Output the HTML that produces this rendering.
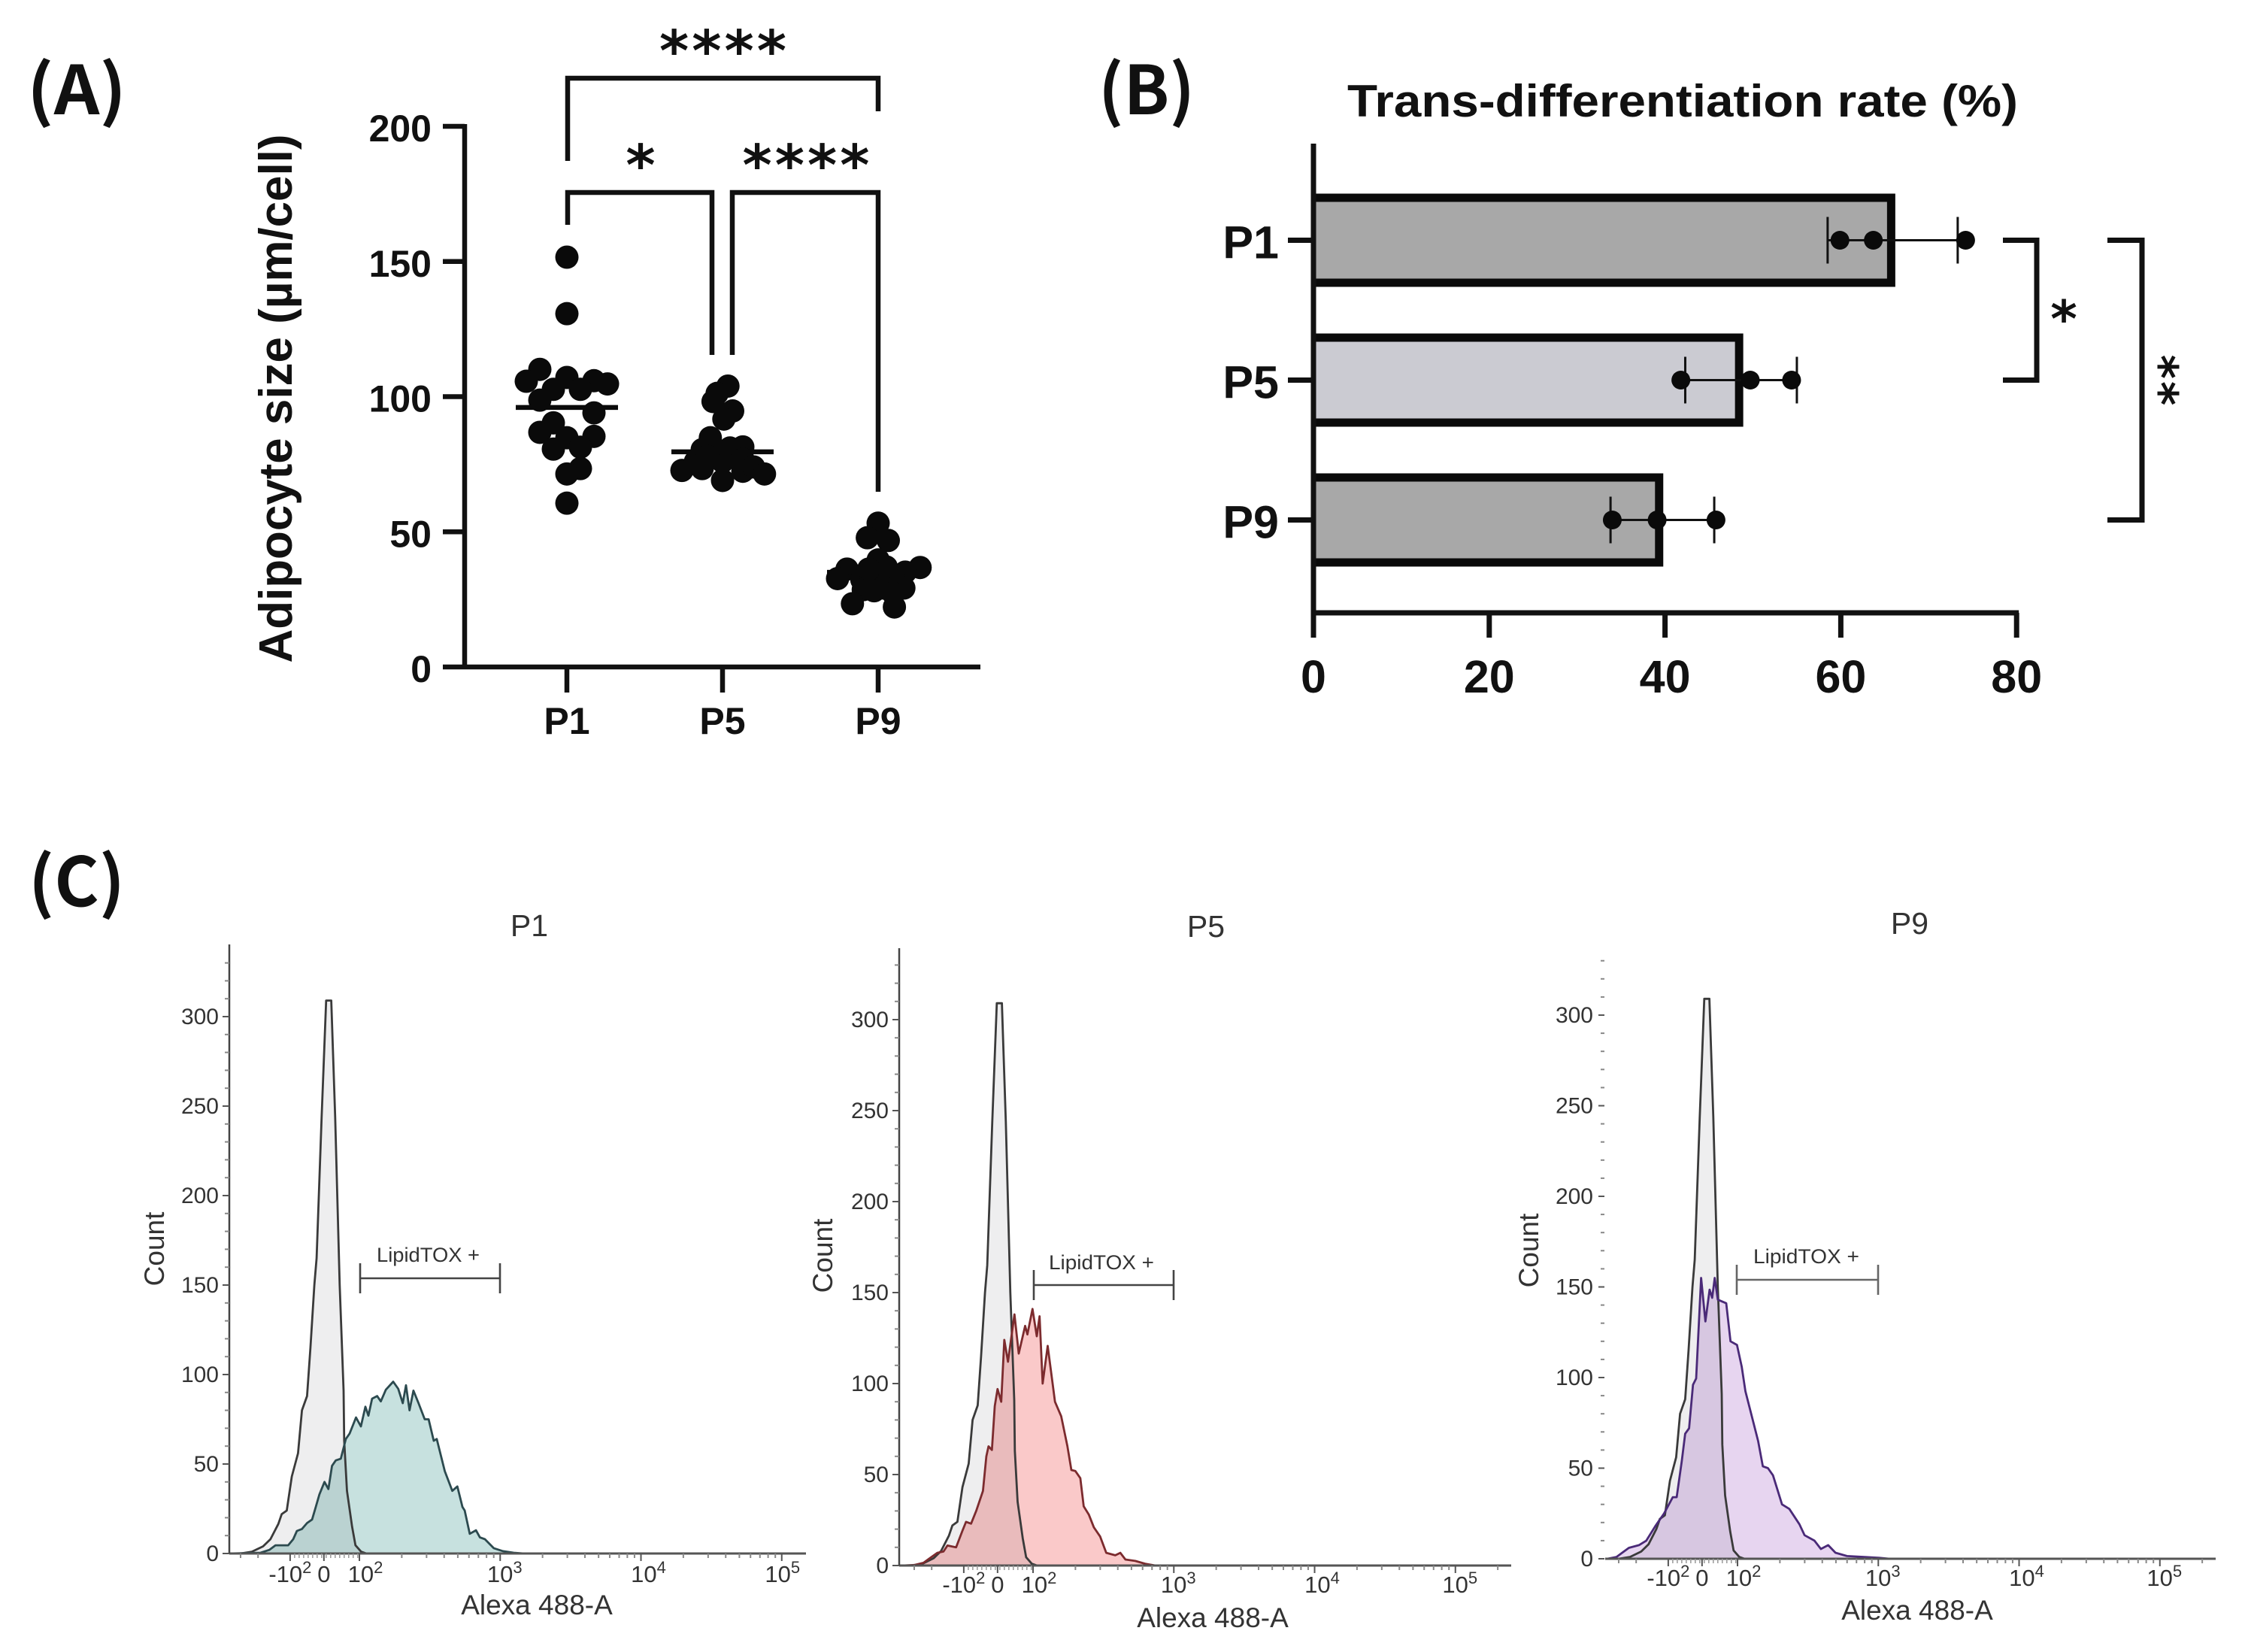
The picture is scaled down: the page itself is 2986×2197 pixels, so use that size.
<!DOCTYPE html>
<html lang="en">
<head>
<meta charset="utf-8">
<title>Adipocyte size, trans-differentiation rate and LipidTOX flow cytometry</title>
<style>
html,body{margin:0;padding:0;background:#fff;width:2986px;height:2197px;overflow:hidden}
svg{display:block}
text{font-family:"Liberation Sans",Arial,sans-serif}
.bold{font-weight:700;fill:#111}
.star{font-family:"DejaVu Sans",sans-serif;font-weight:700;fill:#111}
.panel{font-family:"Noto Sans CJK KR","Liberation Sans",sans-serif;font-weight:700;fill:#111}
.flow{fill:#333}
</style>
</head>
<body>
<svg id="figure" xmlns="http://www.w3.org/2000/svg" width="2986" height="2197" viewBox="0 0 2986 2197">
  <rect width="2986" height="2197" fill="#fff"/>

  <text class="panel" x="36" y="152" font-size="90" textLength="132" lengthAdjust="spacingAndGlyphs">(A)</text>
  <text class="panel" x="1461" y="152" font-size="90" textLength="128" lengthAdjust="spacingAndGlyphs">(B)</text>
  <text class="panel" x="38" y="1205" font-size="90" textLength="128" lengthAdjust="spacingAndGlyphs">(C)</text>

  <g id="chart-a">
    <text class="bold" transform="translate(388,530) rotate(-90)" text-anchor="middle" font-size="62" textLength="703" lengthAdjust="spacingAndGlyphs">Adipocyte size (µm/cell)</text>
  </g>

  <g id="chart-b">
    <text class="bold" x="2238" y="155" text-anchor="middle" font-size="60" textLength="892" lengthAdjust="spacingAndGlyphs">Trans-differentiation rate (%)</text>
  </g>

  <g id="chart-c"></g>
</svg>

<script>
// ---------- Panel A data ----------
const sizeCategories = ['P1', 'P5', 'P9'];
const sizeTicks = [0, 50, 100, 150, 200];
const sizeMeans = [96, 79.6, 35];
const sizeP1 = [151.6, 130.7, 110.1, 105.7, 107.1, 105.9, 104.7, 102.7, 102.7, 98.7, 94, 90.3, 86.8, 85.3, 84.8, 80.6, 81.3, 73.4, 71.4, 60.6];
const slotP1 = [0, 0, -2, -3, 0, 2, 3, 1, -1, -2, 2, -1, -2, 2, 0, -1, 1, 1, 0, 0];
const sizeP5 = [103.9, 101.2, 98.2, 94.7, 91.7, 84.8, 80.4, 81.4, 81, 78.8, 76.9, 72.7, 73.4, 76, 69, 72.4, 74, 71.4, 76, 77.9];
const slotP5 = [0.4, -0.4, -0.7, 0.75, 0.1, -0.9, -1.5, 1.5, 0.55, -0.5, 1.5, -3, -1.5, 0, 0, 1.5, 2.3, 3.1, -2, -1.1];
const sizeP9 = [53.2, 47.8, 46.8, 39.6, 36.2, 32.7, 36.8, 35.1, 32.2, 33.1, 32, 29.2, 28.6, 28.2, 23.4, 22.2, 37, 36.2, 29.2, 27.3];
const slotP9 = [0, -0.8, 0.75, 0, -2.3, -3, 3.1, 2, -1.2, 1.1, 0, 1.9, -1.1, -0.3, -1.9, 1.2, 0.6, -0.7, 0.4, 1.1];

// ---------- Panel B data ----------
const rateCategories = ['P1', 'P5', 'P9'];
const rateTicks = [0, 20, 40, 60, 80];
const rateBars = [66.2, 48.9, 39.8];
const ratePoints = [[59.9, 63.7, 74.2], [41.8, 49.7, 54.4], [34, 39.1, 45.8]];
const rateErrLow = [58.5, 42.3, 33.8];
const rateErrHigh = [73.3, 55, 45.6];
const rateFills = ['#a8a8a8', '#cbcbd2', '#a8a8a8'];

// ---------- Panel C data ----------
const countTicks = [0, 50, 100, 150, 200, 250, 300];
const scaleTickChannels = [108, 168, 231, 481, 731, 981];
const scaleTickBase = ['-10', '0', '10', '10', '10', '10'];
const scaleTickExp = ['2', '', '2', '3', '4', '5'];

const controlChannels = [0, 20, 40, 60, 73, 87, 93, 102, 111, 122, 129, 138, 144, 151, 155, 164, 172, 181, 188, 196, 203, 204, 209, 218, 224, 234, 243, 1100];
const controlCounts = [0, 0, 1, 4, 8, 16.5, 22, 24, 43, 56, 80, 88, 115, 150, 165, 244, 309, 309, 244, 150, 91, 63, 35, 15, 4.6, 1, 0, 0];

const p1Channels = [0, 55.6, 71, 82, 93, 104.6, 113.5, 120, 129, 138, 147, 153.5, 160, 169, 176, 182.4, 189, 198, 207, 213.6, 225, 233.6, 241.6, 247, 253.6, 262.5, 269, 278, 291, 300, 308, 313.7, 320, 327, 336, 347, 354, 363, 368.4, 382.7, 396, 405, 414, 418, 427, 438, 445, 454, 469.5, 485, 505, 523, 1100];
const p1Counts = [0, 0.4, 2, 4.6, 4.6, 4.6, 8, 12.6, 13.7, 17, 19, 26, 33, 40, 36, 49, 52, 53, 64, 67, 76, 71, 82, 77, 86.5, 88, 85, 91.5, 96, 92, 84, 94, 80, 91, 84, 75, 75, 63, 64, 46, 35, 37.5, 26, 24, 11, 13, 9, 8, 3, 1.4, 0.4, 0, 0];

const p5Channels = [0, 20, 36.5, 47.7, 61, 72, 79, 94.4, 105.5, 112, 121, 130, 142, 148, 152, 158, 163, 168, 174.5, 180, 186.5, 198, 205.6, 217, 221, 230, 237.7, 242.6, 248, 257, 270, 281, 292, 299, 306, 315, 321, 330, 339, 350, 361, 377, 386, 395, 412.6, 430, 448, 1100];
const p5Counts = [0, 0.3, 1.5, 4, 7, 7.7, 11, 10, 19, 24, 23, 30, 41, 60, 65.5, 63.5, 87.6, 97, 90, 124, 112, 138, 116.5, 131.7, 127, 141, 126, 137, 100, 120.7, 90, 82, 65.6, 52.5, 52, 48, 32.5, 28, 21, 16, 7, 5.6, 7, 3.3, 2.5, 1, 0, 0];

const p9Channels = [0, 16, 38, 56, 69, 85, 100.5, 116, 123, 132, 138, 145, 152, 157.5, 166.4, 174, 181.5, 186, 190.5, 196, 211, 218.5, 230, 238.5, 245, 267.5, 276, 285, 294, 310, 323, 341, 350, 367.5, 379, 392, 405, 425.4, 456.5, 483, 501, 1100];
const p9Counts = [0, 1, 6, 7.5, 10, 18, 25, 34, 34, 54, 69, 72, 96, 99.5, 155, 131, 148.5, 144, 155, 143, 141, 120, 118, 106, 92.5, 65, 51, 50, 46, 30, 27.5, 19, 13, 10, 5.4, 7.5, 3.3, 1.5, 1, 0.5, 0, 0];

// ---------- Helpers ----------
const NS = 'http://www.w3.org/2000/svg';
function make(parent, tag, attrs, text) {
  const el = document.createElementNS(NS, tag);
  for (const k in attrs) el.setAttribute(k, attrs[k]);
  if (text !== undefined) el.textContent = text;
  parent.appendChild(el);
  return el;
}

// ---------- Panel A ----------
const gA = document.getElementById('chart-a');
const ayScale = v => 887 - v * 3.595;
const axPositions = [754, 961, 1168];
const axCat = i => axPositions[0] + i * (axPositions[1] - axPositions[0]);
const slotWidth = 18;

const aAxis = make(gA, 'path', {d: `M618 165V${ayScale(0)}M618 ${ayScale(0)}H1304`, fill: 'none', stroke: '#111', 'stroke-width': 6.5});



sizeTicks.forEach(t => {
  const tick = make(gA, 'line', {x1: 589, x2: 618, y1: ayScale(t), y2: ayScale(t), stroke: '#111', 'stroke-width': 6.5});
  
  
  const label = make(gA, 'text', {x: 574, y: ayScale(t) + 20, 'text-anchor': 'end', 'font-size': 50, class: 'bold'}, String(t));
  
  
});

sizeCategories.forEach((c, i) => {
  const tick = make(gA, 'line', {x1: axCat(i), x2: axCat(i), y1: ayScale(0), y2: 921, stroke: '#111', 'stroke-width': 6.5});
  
  
  const label = make(gA, 'text', {x: axCat(i), y: 976, 'text-anchor': 'middle', 'font-size': 50, class: 'bold'}, c);
  
  
});

[[sizeP1, slotP1], [sizeP5, slotP5], [sizeP9, slotP9]].forEach((pair, i) => {
  pair[0].forEach((v, j) => {
    const dot = make(gA, 'circle', {cx: axCat(i) + pair[1][j] * slotWidth, cy: ayScale(v), r: 15.5, fill: '#0a0a0a'});
    
    
  });
  const mean = make(gA, 'line', {x1: axCat(i) - 68, x2: axCat(i) + 68, y1: ayScale(sizeMeans[i]), y2: ayScale(sizeMeans[i]), stroke: '#0a0a0a', 'stroke-width': 6.5});
  
  
});

const bracketTop = make(gA, 'path', {d: 'M755 214V104H1168V148', fill: 'none', stroke: '#111', 'stroke-width': 6.5});


const bracketLeft = make(gA, 'path', {d: 'M755 299V256H947V472', fill: 'none', stroke: '#111', 'stroke-width': 6.5});


const bracketRight = make(gA, 'path', {d: 'M974 472V256H1168V654', fill: 'none', stroke: '#111', 'stroke-width': 6.5});



const star1 = make(gA, 'text', {x: 963.5, y: 94, 'text-anchor': 'middle', 'font-size': 75, class: 'star', 'letter-spacing': 4}, '****');


const star2 = make(gA, 'text', {x: 852, y: 246, 'text-anchor': 'middle', 'font-size': 75, class: 'star'}, '*');


const star3 = make(gA, 'text', {x: 1074, y: 246, 'text-anchor': 'middle', 'font-size': 75, class: 'star', 'letter-spacing': 4}, '****');



// ---------- Panel B ----------
const gB = document.getElementById('chart-b');
const bxScale = v => 1747 + v * 11.69;
const byCat = i => 319.5 + i * 186;
const barHeight = 124;
const barStroke = 11;

rateCategories.forEach((c, i) => {
  const top = byCat(i) - barHeight / 2 + barStroke / 2;
  const bottom = byCat(i) + barHeight / 2 - barStroke / 2;
  const right = bxScale(rateBars[i]) - barStroke / 2;
  const bar = make(gB, 'rect', {x: bxScale(0), y: top, width: right - bxScale(0), height: bottom - top, fill: rateFills[i]});
  
  
  const outline = make(gB, 'path', {d: `M${bxScale(0)} ${top}H${right}V${bottom}H${bxScale(0)}`, fill: 'none', stroke: '#0a0a0a', 'stroke-width': barStroke});
  
  

  const tick = make(gB, 'line', {x1: 1713, x2: 1747, y1: byCat(i), y2: byCat(i), stroke: '#111', 'stroke-width': 7});
  
  
  const label = make(gB, 'text', {x: 1701, y: byCat(i) + 24, 'text-anchor': 'end', 'font-size': 61, class: 'bold'}, c);
  
  
});

rateCategories.forEach((c, i) => {
  const low = bxScale(rateErrLow[i]);
  const high = bxScale(rateErrHigh[i]);
  const y = byCat(i);
  const err = make(gB, 'path', {d: `M${low} ${y - 31}V${y + 31}M${low} ${y}H${high}M${high} ${y - 31}V${y + 31}`, fill: 'none', stroke: '#111', 'stroke-width': 3});
  
  
  ratePoints[i].forEach(v => {
    const dot = make(gB, 'circle', {cx: bxScale(v), cy: y, r: 12.5, fill: '#0a0a0a'});
    
    
  });
});

const bAxis = make(gB, 'path', {d: `M${bxScale(0)} 191V815M${bxScale(0)} 815H${bxScale(80) + 3}`, fill: 'none', stroke: '#111', 'stroke-width': 7});



rateTicks.forEach(t => {
  const tick = make(gB, 'line', {x1: bxScale(t), x2: bxScale(t), y1: 815, y2: 848, stroke: '#111', 'stroke-width': 7});
  
  
  const label = make(gB, 'text', {x: bxScale(t), y: 921, 'text-anchor': 'middle', 'font-size': 61, class: 'bold'}, String(t));
  
  
});

const sigB1 = make(gB, 'path', {d: `M2664 ${byCat(0)}H2709V${byCat(1)}H2664`, fill: 'none', stroke: '#111', 'stroke-width': 7});


const sigB2 = make(gB, 'path', {d: `M2803 ${byCat(0)}H2849V${byCat(2)}H2803`, fill: 'none', stroke: '#111', 'stroke-width': 7});


const starB1 = make(gB, 'text', {x: 2745, y: 448, 'text-anchor': 'middle', 'font-size': 68, class: 'star'}, '*');


const starB2 = make(gB, 'text', {transform: 'translate(2852,507) rotate(90)', 'text-anchor': 'middle', 'font-size': 62, class: 'star', 'letter-spacing': 3}, '**');



// ---------- Panel C ----------
const gC = document.getElementById('chart-c');
const channelPx = 0.749;
const labelNudge = [0, 0, 8, 6, 10, 6];

function histogramPath(channels, counts, xs, ys, close) {
  let d = '';
  channels.forEach((c, i) => {
    d += (i ? 'L' : 'M') + Math.min(xs(c), close).toFixed(1) + ' ' + ys(counts[i]).toFixed(1);
  });
  return d;
}

function drawFlowPanel(cfg, channels, counts) {
  const g = make(gC, 'g', {});
  
  

  const xs = c => cfg.x0 + c * channelPx;
  const xsControl = c => cfg.controlX0 + c * channelPx;
  const ys = v => cfg.y0 - v * cfg.k;
  const closePath = (p, sx) => p + `L${cfg.right} ${ys(0)}L${sx(0)} ${ys(0)}Z`;

  const pc = histogramPath(controlChannels, controlCounts, xsControl, ys, cfg.right);
  const ps = histogramPath(channels, counts, xs, ys, cfg.right);

  const ctrlFill = make(g, 'path', {d: closePath(pc, xsControl), fill: '#eeeeef'});
  
  
  const sampleFill = make(g, 'path', {d: closePath(ps, xs), fill: cfg.fill, style: 'mix-blend-mode:multiply'});
  
  
  const ctrlLine = make(g, 'path', {d: pc, fill: 'none', stroke: '#3a3a3a', 'stroke-width': 2.8, 'stroke-linejoin': 'round'});
  
  
  const sampleLine = make(g, 'path', {d: ps, fill: 'none', stroke: cfg.stroke, 'stroke-width': 2.8, 'stroke-linejoin': 'round'});
  
  

  const xLine = make(g, 'line', {x1: cfg.axisX, x2: cfg.right, y1: ys(0), y2: ys(0), stroke: '#555', 'stroke-width': 3});
  
  
  if (cfg.showAxis) {
    const yLine = make(g, 'line', {x1: cfg.axisX, x2: cfg.axisX, y1: cfg.top, y2: ys(0), stroke: '#444', 'stroke-width': 2.5});
    
    
  }

  // y ticks
  for (let v = 0; v <= 330; v += 10) {
    const major = v % 50 === 0;
    const minor = make(g, 'line', {x1: cfg.axisX - (major ? 9 : 6), x2: cfg.axisX + (cfg.showAxis ? 0 : -1), y1: ys(v), y2: ys(v), stroke: major ? '#555' : '#888', 'stroke-width': 2});
    
    
  }
  countTicks.forEach(t => {
    const label = make(g, 'text', {x: cfg.yLabelRight, y: ys(t) + 10, 'text-anchor': 'end', 'font-size': 30, class: 'flow'}, String(t));
    
    
  });

  // x ticks
  scaleTickChannels.forEach((c, i) => {
    const tick = make(g, 'line', {x1: xs(c), x2: xs(c), y1: ys(0), y2: ys(0) + 10, stroke: '#555', 'stroke-width': 2});
    
    
    const shift = labelNudge[i] + (i === 5 ? cfg.lastLabelShift : 0);
    const label = make(g, 'text', {x: xs(c) + shift, y: cfg.xLabelBase, 'text-anchor': 'middle', 'font-size': 31, class: 'flow'}, scaleTickBase[i]);
    
    
    if (scaleTickExp[i]) {
      const sup = make(label, 'tspan', {dy: -12, 'font-size': 22}, scaleTickExp[i]);
      
      
    }
  });
  for (let d = 0; d < 4; d++) {
    for (let m = 2; m <= 9; m++) {
      const c = 231 + 250 * d + 250 * Math.log10(m);
      if (xs(c) > cfg.right) continue;
      const mt = make(g, 'line', {x1: xs(c), x2: xs(c), y1: ys(0), y2: ys(0) + 6, stroke: '#888', 'stroke-width': 2});
      
      
    }
  }
  for (let c = 116; c < 231; c += 8) {
    const mt = make(g, 'line', {x1: xs(c), x2: xs(c), y1: ys(0), y2: ys(0) + 6, stroke: '#999', 'stroke-width': 1.5});
    
    
  }
  [20, 51].forEach(c => {
    const mt = make(g, 'line', {x1: xs(c), x2: xs(c), y1: ys(0), y2: ys(0) + 6, stroke: '#888', 'stroke-width': 2});
    
    
  });

  // gate
  const gate = make(g, 'path', {d: `M${cfg.gateL} ${cfg.gateY - 20}V${cfg.gateY + 20}M${cfg.gateL} ${cfg.gateY}H${cfg.gateR}M${cfg.gateR} ${cfg.gateY - 20}V${cfg.gateY + 20}`, fill: 'none', stroke: cfg.gateColor, 'stroke-width': 2.6});
  
  
  const gateLabel = make(g, 'text', {x: cfg.gateTextX, y: cfg.gateTextY, 'font-size': 27, textLength: cfg.gateTextW, lengthAdjust: 'spacingAndGlyphs', class: 'flow'}, 'LipidTOX +');
  
  

  const title = make(g, 'text', {x: cfg.titleX, y: cfg.titleY, 'text-anchor': 'middle', 'font-size': 41, class: 'flow'}, cfg.title);
  
  
  const xTitle = make(g, 'text', {x: cfg.xTitleX, y: cfg.xTitleY, 'text-anchor': 'middle', 'font-size': 37, class: 'flow'}, 'Alexa 488-A');
  
  
  const yTitle = make(g, 'text', {transform: `translate(${cfg.yTitleX},${cfg.yTitleY}) rotate(-90)`, 'text-anchor': 'middle', 'font-size': 37, class: 'flow'}, 'Count');
  
  
}

drawFlowPanel({
  title: 'P1', x0: 305, controlX0: 305, y0: 2066, k: 2.38, axisX: 305, right: 1072, top: 1256, showAxis: true,
  fill: '#c7e1df', stroke: '#2c4a4f', yLabelRight: 291, xLabelBase: 2104, lastLabelShift: -5,
  gateL: 479, gateR: 665, gateY: 1700, gateColor: '#444', gateTextX: 501, gateTextY: 1678, gateTextW: 137,
  titleX: 704, titleY: 1245, xTitleX: 714, xTitleY: 2147, yTitleX: 218, yTitleY: 1661
}, p1Channels, p1Counts);

drawFlowPanel({
  title: 'P5', x0: 1201, controlX0: 1197, y0: 2082, k: 2.42, axisX: 1196, right: 2010, top: 1261, showAxis: true,
  fill: '#fac9c9', stroke: '#7c2b2e', yLabelRight: 1182, xLabelBase: 2118, lastLabelShift: 0,
  gateL: 1375, gateR: 1561, gateY: 1709, gateColor: '#444', gateTextX: 1395, gateTextY: 1688, gateTextW: 140,
  titleX: 1604, titleY: 1246, xTitleX: 1613, xTitleY: 2164, yTitleX: 1107, yTitleY: 1670
}, p5Channels, p5Counts);

drawFlowPanel({
  title: 'P9', x0: 2138, controlX0: 2138, y0: 2073, k: 2.41, axisX: 2135, right: 2947, top: 1277, showAxis: false,
  fill: '#e7d5f0', stroke: '#4a2a78', yLabelRight: 2119, xLabelBase: 2109, lastLabelShift: 0,
  gateL: 2310, gateR: 2498, gateY: 1702, gateColor: '#666', gateTextX: 2332, gateTextY: 1680, gateTextW: 141,
  titleX: 2540, titleY: 1242, xTitleX: 2550, xTitleY: 2154, yTitleX: 2046, yTitleY: 1663
}, p9Channels, p9Counts);
</script>
</body>
</html>
